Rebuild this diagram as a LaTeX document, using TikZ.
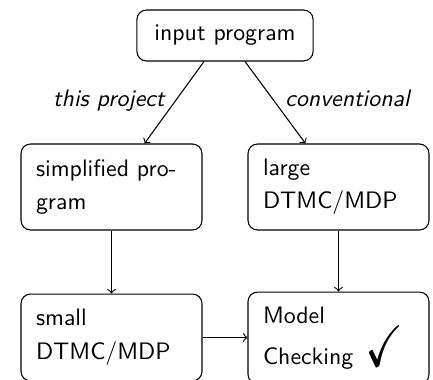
\documentclass[tikz,border=0pt]{standalone}
\usepackage{fontspec}
\usepackage{amssymb}
\usepackage{graphicx}
\usetikzlibrary{calc}
\begin{document}
\begin{tikzpicture}[x=0.42pt,y=-0.42pt,
  base/.style={font=\sffamily},
  box/.style={base, draw, rounded corners=4pt, line width=0.45pt, align=left,
    inner xsep=6.3pt, inner ysep=0pt, text width=63.4pt, minimum width=76pt},
  topbox/.style={base, draw, rounded corners=4pt, line width=0.45pt, align=center,
    inner sep=0pt, minimum width=74pt, minimum height=21.4pt},
  arr/.style={->, line width=0.45pt},
  lab/.style={base, font=\sffamily\itshape, inner sep=0pt}]
\useasboundingbox (0,0) rectangle (433,380);
\clip (0,0) rectangle (433,380);
\node[topbox] (inp) at (225,35.5) {input program};
\node[box, minimum height=36.1pt] (simp) at (111.5,187) {simplified pro-\\[1.9pt]gram};
\node[box, minimum height=36.1pt] (large) at (338.5,187) {large\\[1.9pt]DTMC/MDP};
\node[box, minimum height=36.5pt] (small) at (111.5,337.5) {small\\[2.3pt]DTMC/MDP};
\node[box, minimum height=38.6pt] (mc) at (338.5,338) {Model\\[0pt]Checking\hspace{5pt}\raisebox{-0.8pt}{\resizebox{16pt}{17pt}{$\checkmark$}}};
\draw[arr] ($(inp.south)+(-21,0)$) -- ($(simp.north west)+(124,0)$);
\draw[arr] ($(inp.south)+(20,0)$) -- ($(large.north west)+(58,0)$);
\draw[arr] (simp.south) -- (small.north);
\draw[arr] (large.south) -- (mc.north);
\draw[arr] (small.east) -- (small.east -| mc.west);
\node[lab, anchor=base east] (lt) at (165,107) {this project};
\node[lab, anchor=base west] (lc) at (285,107) {conventional};
\end{tikzpicture}
\end{document}
